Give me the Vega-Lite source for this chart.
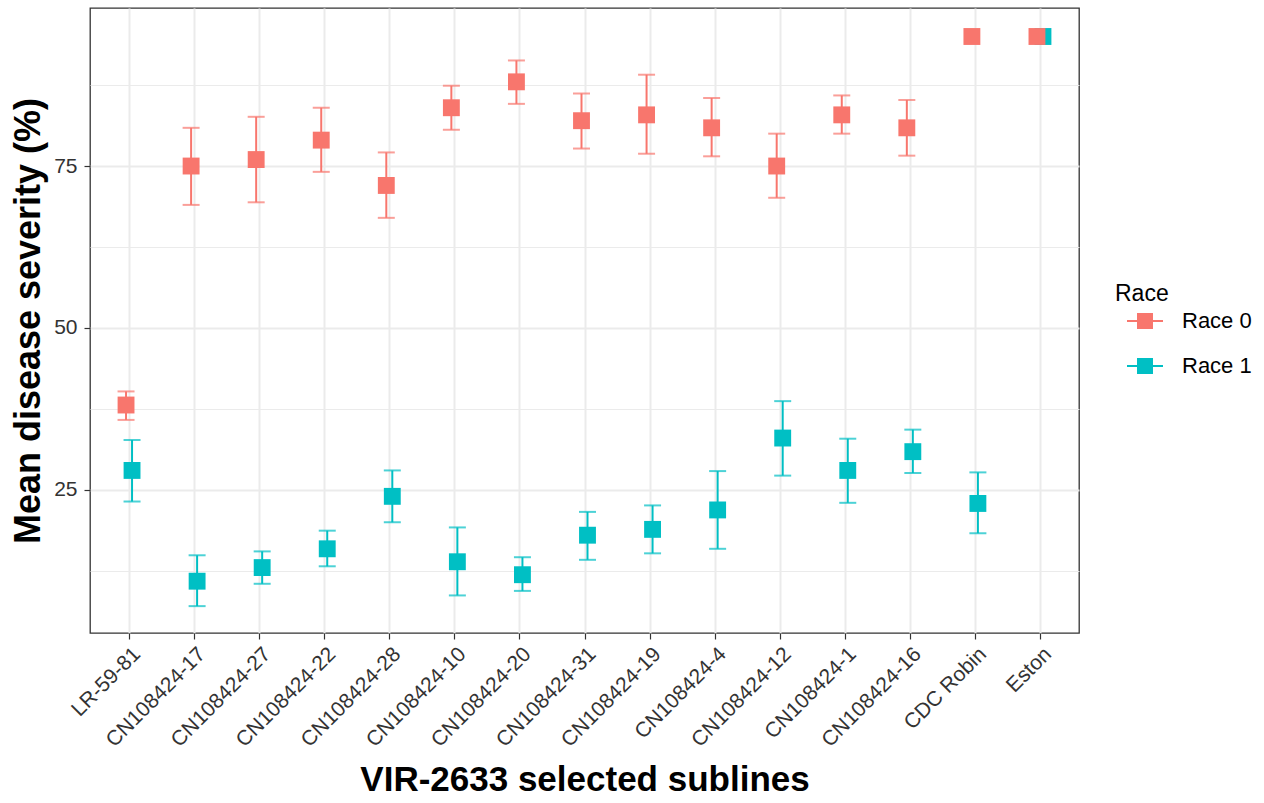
{
  "$schema": "https://vega.github.io/schema/vega-lite/v6.json",
  "autosize": "none",
  "width": 989,
  "height": 625,
  "padding": {"left": 90, "top": 8, "right": 185, "bottom": 170},
  "background": "white",
  "config": {
    "font": "Liberation Sans",
    "view": {"stroke": "#333333", "strokeWidth": 1.3},
    "axis": {
      "domain": false,
      "labelFont": "Liberation Sans",
      "labelColor": "#333333",
      "labelFontSize": 21,
      "tickColor": "#333333",
      "tickSize": 6,
      "tickWidth": 1.2,
      "gridColor": "#EBEBEB",
      "gridWidth": 2,
      "titleFont": "Liberation Sans",
      "titleFontWeight": "bold",
      "titleColor": "#000000"
    },
    "legend": {
      "titleFont": "Liberation Sans",
      "labelFont": "Liberation Sans"
    }
  },
  "resolve": {"axis": {"y": "independent"}},
  "data": {
    "values": [
      {"line": "LR-59-81", "race": "Race 1", "mean": 28.0, "lo": 23.2, "hi": 32.7},
      {"line": "CN108424-17", "race": "Race 1", "mean": 10.9, "lo": 7.05, "hi": 14.9},
      {"line": "CN108424-27", "race": "Race 1", "mean": 13.0, "lo": 10.5, "hi": 15.5},
      {"line": "CN108424-22", "race": "Race 1", "mean": 15.9, "lo": 13.2, "hi": 18.7},
      {"line": "CN108424-28", "race": "Race 1", "mean": 24.0, "lo": 20.0, "hi": 28.0},
      {"line": "CN108424-10", "race": "Race 1", "mean": 13.9, "lo": 8.7, "hi": 19.2},
      {"line": "CN108424-20", "race": "Race 1", "mean": 11.9, "lo": 9.4, "hi": 14.6},
      {"line": "CN108424-31", "race": "Race 1", "mean": 18.0, "lo": 14.2, "hi": 21.6},
      {"line": "CN108424-19", "race": "Race 1", "mean": 18.9, "lo": 15.2, "hi": 22.6},
      {"line": "CN108424-4", "race": "Race 1", "mean": 21.9, "lo": 15.9, "hi": 27.9},
      {"line": "CN108424-12", "race": "Race 1", "mean": 33.0, "lo": 27.2, "hi": 38.7},
      {"line": "CN108424-1", "race": "Race 1", "mean": 28.0, "lo": 23.0, "hi": 32.9},
      {"line": "CN108424-16", "race": "Race 1", "mean": 30.9, "lo": 27.6, "hi": 34.3},
      {"line": "CDC Robin", "race": "Race 1", "mean": 22.9, "lo": 18.3, "hi": 27.7},
      {"line": "Eston", "race": "Race 1", "mean": 95.0, "lo": null, "hi": null},
      {"line": "LR-59-81", "race": "Race 0", "mean": 38.1, "lo": 35.8, "hi": 40.2},
      {"line": "CN108424-17", "race": "Race 0", "mean": 75.0, "lo": 69.0, "hi": 80.9},
      {"line": "CN108424-27", "race": "Race 0", "mean": 76.0, "lo": 69.4, "hi": 82.6},
      {"line": "CN108424-22", "race": "Race 0", "mean": 79.0, "lo": 74.1, "hi": 84.0},
      {"line": "CN108424-28", "race": "Race 0", "mean": 72.0, "lo": 67.0, "hi": 77.1},
      {"line": "CN108424-10", "race": "Race 0", "mean": 84.0, "lo": 80.6, "hi": 87.4},
      {"line": "CN108424-20", "race": "Race 0", "mean": 88.0, "lo": 84.6, "hi": 91.3},
      {"line": "CN108424-31", "race": "Race 0", "mean": 82.0, "lo": 77.7, "hi": 86.2},
      {"line": "CN108424-19", "race": "Race 0", "mean": 82.9, "lo": 76.9, "hi": 89.1},
      {"line": "CN108424-4", "race": "Race 0", "mean": 80.9, "lo": 76.5, "hi": 85.5},
      {"line": "CN108424-12", "race": "Race 0", "mean": 75.0, "lo": 70.1, "hi": 80.0},
      {"line": "CN108424-1", "race": "Race 0", "mean": 82.9, "lo": 80.0, "hi": 85.9},
      {"line": "CN108424-16", "race": "Race 0", "mean": 80.9, "lo": 76.6, "hi": 85.2},
      {"line": "CDC Robin", "race": "Race 0", "mean": 95.0, "lo": null, "hi": null},
      {"line": "Eston", "race": "Race 0", "mean": 95.0, "lo": null, "hi": null}
    ]
  },
  "encoding": {
    "x": {
      "field": "line",
      "type": "nominal",
      "sort": ["LR-59-81", "CN108424-17", "CN108424-27", "CN108424-22", "CN108424-28", "CN108424-10", "CN108424-20", "CN108424-31", "CN108424-19", "CN108424-4", "CN108424-12", "CN108424-1", "CN108424-16", "CDC Robin", "Eston"],
      "scale": {"type": "point", "padding": 0.6},
      "axis": {
        "title": "VIR-2633 selected sublines",
        "titleFontSize": 35,
        "titlePadding": 12,
        "labelAngle": -45,
        "labelPadding": 4,
        "grid": true
      }
    },
    "xOffset": {
      "field": "race",
      "type": "nominal",
      "scale": {"type": "point", "domain": ["Race 0", "Race 1"], "range": [-3, 3], "padding": 0}
    },
    "color": {
      "field": "race",
      "type": "nominal",
      "scale": {"domain": ["Race 0", "Race 1"], "range": ["#F8766D", "#00BFC4"]},
      "legend": {
        "orient": "none",
        "legendX": 1025,
        "legendY": 275,
        "title": "Race",
        "titleFontSize": 23,
        "titleFontWeight": "normal",
        "titleColor": "#000000",
        "titlePadding": -3,
        "labelFontSize": 22,
        "labelColor": "#000000",
        "symbolType": "M-1,-0.06H1V0.06H-1Z M-0.444,-0.444H0.444V0.444H-0.444Z",
        "symbolSize": 1296,
        "symbolStrokeWidth": 0,
        "symbolOpacity": 1,
        "symbolOffset": 12,
        "rowPadding": 16,
        "labelOffset": 19,
        "padding": 0
      }
    }
  },
  "layer": [
    {
      "mark": {"type": "rule", "strokeWidth": 2},
      "encoding": {
        "y": {
          "field": "lo",
          "type": "quantitative",
          "scale": {"domain": [2.9, 99.4], "nice": false, "zero": false},
          "axis": {
            "title": "Mean disease severity (%)",
            "titleFontSize": 36,
            "titlePadding": 6,
            "values": [25, 50, 75],
            "grid": true,
            "labelPadding": 7
          }
        },
        "y2": {"field": "hi"}
      }
    },
    {
      "mark": {"type": "tick", "thickness": 2, "size": 17},
      "encoding": {"y": {"field": "lo", "type": "quantitative", "axis": null}}
    },
    {
      "mark": {"type": "tick", "thickness": 2, "size": 17},
      "encoding": {"y": {"field": "hi", "type": "quantitative", "axis": null}}
    },
    {
      "mark": {"type": "point", "shape": "square", "filled": true, "opacity": 1, "size": 285},
      "encoding": {
        "y": {
          "field": "mean",
          "type": "quantitative",
          "axis": {
            "orient": "right",
            "values": [12.5, 37.5, 62.5, 87.5],
            "grid": true,
            "gridWidth": 1,
            "labels": false,
            "ticks": false,
            "title": null
          }
        }
      }
    }
  ]
}
